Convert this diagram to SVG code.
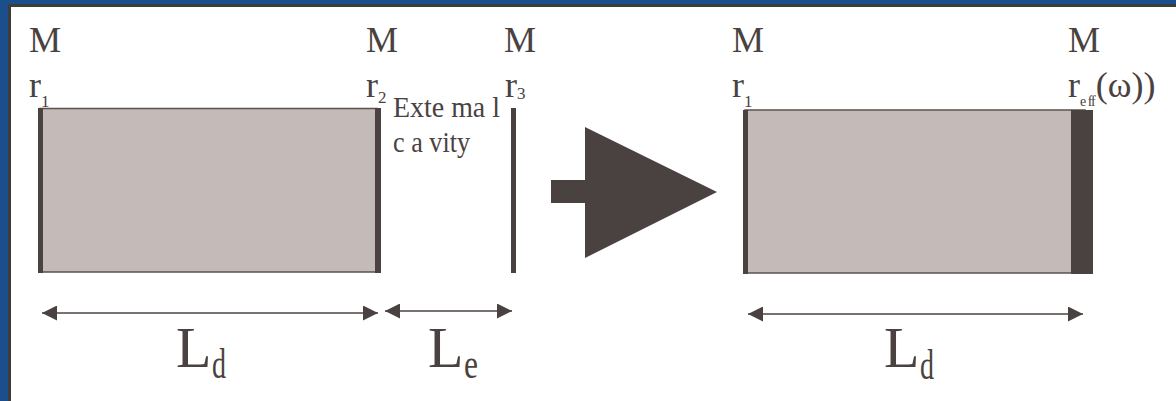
<svg xmlns="http://www.w3.org/2000/svg" width="1176" height="401" viewBox="0 0 1176 401">
<style>
.t{font-family:"Liberation Serif","Times New Roman",serif;fill:#4a4240}
.big{font-size:36px}
.sub{font-size:17px}
.sub2{font-size:14px}
.lab{font-size:30px}
.L{font-size:58px}
.Ls{font-size:42px}
.cav{fill:#c4bbb8;stroke:#5a5250;stroke-width:1.5}
.mir{fill:#4a4240}
.dim{stroke:#7a7270;stroke-width:1.8;fill:none}
</style>
<defs>
<marker id="ah" viewBox="0 0 10 10" refX="10" refY="5" markerWidth="15" markerHeight="15" markerUnits="userSpaceOnUse" orient="auto-start-reverse">
<path d="M0,0 L10,5 L0,10 Z" fill="#4a4240"/>
</marker>
</defs>
<rect x="0" y="0" width="1176" height="401" fill="#ffffff"/>
<rect x="0" y="0" width="1176" height="4" fill="#1b4f8c"/>
<rect x="0" y="0" width="8" height="401" fill="#1b4f8c"/>
<rect x="8" y="4" width="1168" height="3" fill="#3e3c3c"/>
<rect x="8" y="4" width="3" height="397" fill="#3e3c3c"/>

<g id="cavity-left">
<rect class="cav" x="40" y="108.5" width="337" height="163.5"/>
<rect class="mir" x="38" y="108" width="5" height="165"/>
<rect class="mir" x="375" y="108" width="6" height="165"/>
</g>
<g id="mirror-r3">
<rect class="mir" x="511" y="108" width="5" height="165"/>
</g>
<g id="cavity-right">
<rect class="cav" x="745" y="110" width="340" height="163"/>
<rect class="mir" x="743" y="110" width="5" height="164"/>
<rect class="mir" x="1071" y="110" width="22" height="164"/>
</g>

<g id="labels">
<text class="t big" x="29" y="52">M</text>
<text class="t big" x="29" y="97">r<tspan class="sub" dy="10">1</tspan></text>
<text class="t big" x="366" y="52">M</text>
<text class="t big" x="366" y="97">r<tspan class="sub" dy="6">2</tspan></text>
<text class="t big" x="504" y="52">M</text>
<text class="t big" x="505" y="97">r<tspan class="sub" dy="2">3</tspan></text>
<text class="t lab" x="393" y="117" textLength="107" lengthAdjust="spacingAndGlyphs">Exte ma l</text>
<text class="t lab" x="393" y="152" textLength="77" lengthAdjust="spacingAndGlyphs">c a vity</text>
<text class="t big" x="732" y="52">M</text>
<text class="t big" x="732" y="97">r<tspan class="sub" dy="10">1</tspan></text>
<text class="t big" x="1068" y="52">M</text>
<text class="t big" x="1068" y="97">r<tspan class="sub2" dy="9" letter-spacing="-1">e ff</tspan><tspan dx="1" dy="-9">(ω))</tspan></text>
</g>

<g id="connectors">
<line class="dim" x1="42" y1="313" x2="378" y2="313" marker-start="url(#ah)" marker-end="url(#ah)"/>
<line class="dim" x1="385" y1="311" x2="512" y2="311" marker-start="url(#ah)" marker-end="url(#ah)"/>
<line class="dim" x1="748" y1="314" x2="1083" y2="314" marker-start="url(#ah)" marker-end="url(#ah)"/>
<g id="big-arrow" fill="#4a4240">
<rect x="551" y="180" width="35" height="23"/>
<polygon points="585,127 717,192 585,258"/>
</g>
</g>

<g id="dim-labels">
<text class="t L" x="176" y="367">L</text><text class="t Ls" x="212" y="378" textLength="14" lengthAdjust="spacingAndGlyphs">d</text>
<text class="t L" x="428" y="367">L</text><text class="t Ls" x="464" y="378" textLength="14" lengthAdjust="spacingAndGlyphs">e</text>
<text class="t L" x="884" y="367">L</text><text class="t Ls" x="920" y="379" textLength="14" lengthAdjust="spacingAndGlyphs">d</text>
</g>
</svg>
